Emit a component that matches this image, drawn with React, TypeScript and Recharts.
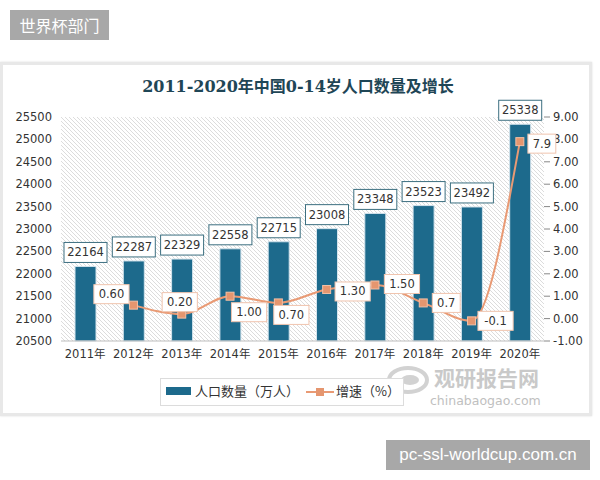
import React from 'react';
import { ComposedChart, Bar, Line, XAxis, YAxis, CartesianGrid, LabelList } from 'recharts';

const years = ['2011年', '2012年', '2013年', '2014年', '2015年', '2016年', '2017年', '2018年', '2019年', '2020年'];
const population = [22164, 22287, 22329, 22558, 22715, 23008, 23348, 23523, 23492, 25338];
const growth: (number | null)[] = [null, 0.6, 0.2, 1.0, 0.7, 1.3, 1.5, 0.7, -0.1, 7.9];
const growthLabels = ['', '0.60', '0.20', '1.00', '0.70', '1.30', '1.50', '0.7', '-0.1', '7.9'];
const leftTicks = [20500, 21000, 21500, 22000, 22500, 23000, 23500, 24000, 24500, 25000, 25500];
const rightTicks = [-1, 0, 1, 2, 3, 4, 5, 6, 7, 8, 9];

const title = '2011-2020年中国0-14岁人口数量及增长';
const legendBar = '人口数量（万人）';
const legendLine = '增速（%）';

// label box offsets (styling only) relative to the line point
const rateLabelOffsets: [number, number][] = [
  [0, 0], [-22, -11], [-2, -12], [19, 16], [13, 12], [26, 2], [27, -1], [23, 0], [24, 0], [22, 2],
];

const data = years.map((y, i) => ({ year: y, pop: population[i], rate: growth[i], rateLabel: growthLabels[i] }));

const BAR = '#1d6a8c';
const LINE = '#e99a74';
const FONT = '"DejaVu Sans", "Noto Sans CJK SC", sans-serif';

const BarLabel = (props: any) => {
  const { x, y, width, value } = props;
  if (value == null) return null;
  const cx = Number(x) + Number(width) / 2;
  const w = 43;
  const h = 20;
  const top = Number(y) - 4 - h;
  return (
    <g>
      <rect x={cx - w / 2} y={top} width={w} height={h} fill="#ffffff" stroke="#3c6f80" strokeWidth={1} />
      <text x={cx} y={top + h / 2 + 4} textAnchor="middle" fontSize={11.5} fontFamily={FONT} fill="#333">
        {value}
      </text>
    </g>
  );
};

const RateLabel = (props: any) => {
  const { x, y, index } = props;
  const txt = growthLabels[index];
  if (!txt || x == null || y == null) return null;
  const [dx, dy] = rateLabelOffsets[index];
  const cx = Number(x) + dx;
  const cy = Number(y) + dy;
  const w = txt.length * 7.3 + 6;
  const h = 19;
  return (
    <g>
      <rect x={cx - w / 2} y={cy - h / 2} width={w} height={h} fill="#ffffff" stroke="#f0c4ae" strokeWidth={1} />
      <text x={cx} y={cy + 4} textAnchor="middle" fontSize={11.5} fontFamily={FONT} fill="#333">
        {txt}
      </text>
    </g>
  );
};

const SquareDot = (props: any) => {
  const { cx, cy, index } = props;
  if (cx == null || cy == null || props.value == null) return <g key={`d${index}`} />;
  return <rect key={`d${index}`} x={cx - 4} y={cy - 4} width={8} height={8} fill="#e5966f" stroke="#f3c0a6" strokeWidth={1} />;
};

export default function App() {
  return (
    <div style={{ position: 'absolute', left: 0, top: 0, width: 600, height: 480, background: '#fff', overflow: 'hidden' }}>
      <div
        style={{
          position: 'absolute', left: 10, top: 10, width: 99, height: 30, background: '#a8a8a8', color: '#fff',
          fontFamily: '"Noto Sans CJK SC", sans-serif', fontSize: 16, lineHeight: '30px', textAlign: 'center',
        }}
      >
        世界杯部门
      </div>
      <div
        style={{
          position: 'absolute', left: 0, top: 62, width: 586, height: 348, background: '#fff',
          border: '3px solid #e8e8e8', boxShadow: '0 0 2px #dcdcdc',
        }}
      />
      <div
        style={{
          position: 'absolute', left: 0, top: 76, width: 596, textAlign: 'center', color: '#1f4656',
          fontFamily: '"DejaVu Serif", "Noto Sans CJK SC", serif', fontWeight: 'bold', fontSize: 16, lineHeight: '22px',
        }}
      >
        {title}
      </div>
      <svg style={{ position: 'absolute', left: 386, top: 352 }} width={170} height={60}>
        <ellipse cx={22} cy={28} rx={19} ry={12} fill="none" stroke="#d2d2d2" strokeWidth={4} />
        <ellipse cx={24} cy={28} rx={9} ry={5} fill="#d2d2d2" />
        <text x={48} y={34} fontSize={21} fontWeight="bold" fill="#c9c9c9" fontFamily='"Noto Sans CJK SC", sans-serif'>
          观研报告网
        </text>
        <text x={44} y={53} fontSize={12.5} fill="#c0c0c0" fontFamily={FONT}>
          chinabaogao.com
        </text>
      </svg>
      <div style={{ position: 'absolute', left: 0, top: 0 }}>
        <ComposedChart width={600} height={480} data={data} margin={{ top: 117, right: 6, bottom: 109, left: 10 }}>
          <defs>
            <pattern id="hatch" patternUnits="userSpaceOnUse" width="4" height="4">
              <rect x="0" y="0" width="4" height="4" fill="#ffffff" />
              <path d="M-1,-1 L5,5 M3,-1 L5,1 M-1,3 L1,5" stroke="#dcdcdc" strokeWidth="1" />
            </pattern>
          </defs>
          <CartesianGrid horizontal={false} vertical={false} fill="url(#hatch)" />
          <XAxis
            dataKey="year"
            tickLine={false}
            axisLine={{ stroke: '#bdbdbd' }}
            tickMargin={3}
            height={30}
            interval={0}
            tick={{ fontSize: 11.5, fontFamily: FONT, fill: '#333' }}
          />
          <YAxis
            yAxisId="left"
            domain={[20500, 25500]}
            ticks={leftTicks}
            interval={0}
            width={51}
            tickLine={false}
            axisLine={false}
            tickMargin={3}
            tick={{ fontSize: 11.5, fontFamily: FONT, fill: '#333' }}
          />
          <YAxis
            yAxisId="right"
            orientation="right"
            domain={[-1, 9]}
            ticks={rightTicks}
            interval={0}
            width={50}
            tickLine={{ stroke: '#888' }}
            axisLine={false}
            tickMargin={3}
            tickFormatter={(v: number) => v.toFixed(2)}
            tick={{ fontSize: 11.5, fontFamily: FONT, fill: '#333' }}
          />
          <Bar yAxisId="left" dataKey="pop" barSize={21} fill={BAR} stroke="#d3e3ec" strokeWidth={1} isAnimationActive={false}>
            <LabelList dataKey="pop" content={BarLabel} />
          </Bar>
          <Line
            yAxisId="right"
            dataKey="rate"
            type="monotone"
            stroke={LINE}
            strokeWidth={2}
            dot={SquareDot}
            activeDot={false}
            isAnimationActive={false}
          >
            <LabelList dataKey="rate" content={RateLabel} />
          </Line>
        </ComposedChart>
      </div>
      <div
        style={{
          position: 'absolute', left: 160, top: 378, width: 242, height: 26, border: '1px solid #dcdcdc', background: '#fff',
          fontFamily: '"Noto Sans CJK SC", sans-serif', fontSize: 13, color: '#333',
        }}
      >
        <div style={{ position: 'absolute', left: 5, top: 8, width: 25, height: 8, background: BAR }} />
        <div style={{ position: 'absolute', left: 34, top: 3, lineHeight: '18px', whiteSpace: 'nowrap' }}>{legendBar}</div>
        <div style={{ position: 'absolute', left: 145, top: 12, width: 28, height: 2, background: LINE }} />
        <div style={{ position: 'absolute', left: 155, top: 9, width: 8, height: 8, background: '#e5966f' }} />
        <div style={{ position: 'absolute', left: 175, top: 3, lineHeight: '18px', whiteSpace: 'nowrap' }}>{legendLine}</div>
      </div>
      <div
        style={{
          position: 'absolute', left: 386, top: 440, width: 204, height: 30, background: '#a8a8a8', color: '#fff',
          fontFamily: '"Liberation Sans", Arial, sans-serif', fontSize: 17, lineHeight: '30px', textAlign: 'center',
        }}
      >
        pc-ssl-worldcup.com.cn
      </div>
    </div>
  );
}
